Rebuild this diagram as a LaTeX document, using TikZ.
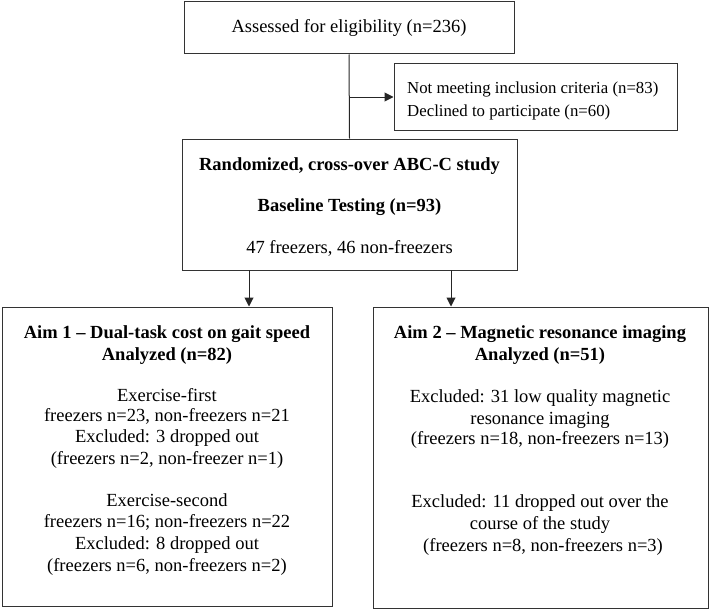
\documentclass[tikz,border=0pt]{standalone}
\usepackage{fontspec}
\setmainfont{Liberation Serif}
\usetikzlibrary{arrows.meta}
\begin{document}
\begin{tikzpicture}[x=1pt,y=-1pt,
  box/.style={draw=black!80, line width=1pt, rectangle, inner sep=0pt},
  txt/.style={anchor=base, inner sep=0pt, font=\fontsize{18.5}{21}\selectfont},
  txtb/.style={txt, font=\fontsize{18.5}{21}\selectfont\bfseries},
  txts/.style={anchor=base west, inner sep=0pt, font=\fontsize{16.8}{20}\selectfont},
  conn/.style={draw=black!85, line width=1pt},
  arr/.style={conn, -{Triangle[width=9pt,length=9pt]}}]
\useasboundingbox (0,0) rectangle (709,610);
% boxes
\node[box, minimum width=330, minimum height=52] (top) at (349,28) {};
\node[box, minimum width=283, minimum height=66] (excl) at (535.5,97) {};
\node[box, minimum width=335, minimum height=131] (rand) at (349.5,204.5) {};
\node[box, minimum width=330, minimum height=299] (aim1) at (167,456.5) {};
\node[box, minimum width=335, minimum height=301] (aim2) at (540.5,457.5) {};
% texts
\node[txt] (t0) at (349,33) {Assessed for eligibility (n=236)};
\node[txts] (e1) at (407,93.5) {Not meeting inclusion criteria (n=83)};
\node[txts] (e2) at (407,116.5) {Declined to participate (n=60)};
\node[txtb] (r1) at (349.5,170) {Randomized, cross-over ABC-C study};
\node[txtb] (r2) at (349.5,211) {Baseline Testing (n=93)};
\node[txt] (r3) at (349.5,253) {47 freezers, 46 non-freezers};
\node[txtb] (a1) at (167,338.5) {Aim 1 -- Dual-task cost on gait speed};
\node[txtb] (a2) at (167,360.5) {Analyzed (n=82)};
\node[txt] (a3) at (167,401) {Exercise-first};
\node[txt] (a4) at (167,421.7) {freezers n=23, non-freezers n=21};
\node[txt] (a5) at (167,442.7) {Excluded: 3 dropped out};
\node[txt] (a6) at (167,464.3) {(freezers n=2, non-freezer n=1)};
\node[txt] (a7) at (167,506) {Exercise-second};
\node[txt] (a8) at (167,527) {freezers n=16; non-freezers n=22};
\node[txt] (a9) at (167,549) {Excluded: 8 dropped out};
\node[txt] (a10) at (167,571.5) {(freezers n=6, non-freezers n=2)};
\node[txtb] (b1) at (540,338.5) {Aim 2 -- Magnetic resonance imaging};
\node[txtb] (b2) at (540,360.5) {Analyzed (n=51)};
\node[txt] (b3) at (540,402.7) {Excluded: 31 low quality magnetic};
\node[txt] (b4) at (540,424.3) {resonance imaging};
\node[txt] (b5) at (540,444.3) {(freezers n=18, non-freezers n=13)};
\node[txt] (b6) at (540,507.7) {Excluded: 11 dropped out over the};
\node[txt] (b7) at (540,529.3) {course of the study};
\node[txt] (b8) at (543,551) {(freezers n=8, non-freezers n=3)};
% connectors
\coordinate (br) at (top.south |- excl.west);
\draw[conn] (top.south) -- (rand.north);
\draw[arr] (br) -- (excl.west);
\coordinate (s1) at (249,270);
\coordinate (s2) at (451,270);
\draw[arr] (s1) -- (s1 |- aim1.north);
\draw[arr] (s2) -- (s2 |- aim2.north);
\end{tikzpicture}
\end{document}
